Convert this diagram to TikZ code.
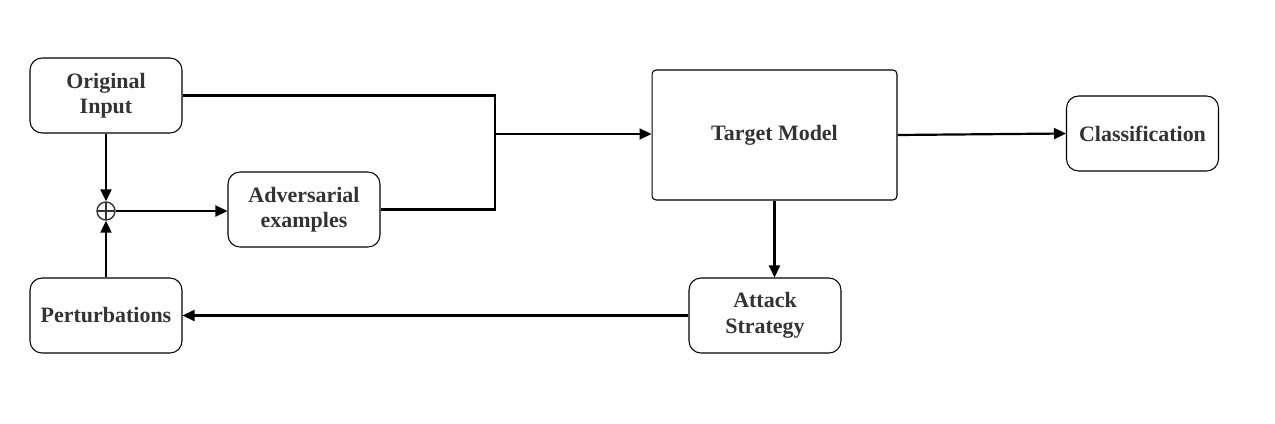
\documentclass[tikz,border=0pt]{standalone}
\usepackage{fontspec}
\setmainfont{Liberation Serif}
\usepackage{tikz}
\usetikzlibrary{positioning, arrows.meta, shapes}
\definecolor{tinta}{RGB}{51, 51, 51}
\tikzset{
    blk/.style={draw, rectangle, rounded corners=0.24cm, minimum width=3.04cm, minimum height=1.5cm, line width=0.6pt, text=tinta, font=\fontsize{12.5}{14.5}\selectfont\bfseries, align=center},
    mdl/.style={blk, rounded corners=0.08cm, minimum width=4.9cm, minimum height=2.6cm},
    summ/.style={circle, draw=tinta, line width=0.8pt, minimum size=0.36cm, inner sep=0pt,
        path picture={\draw [tinta, line width=0.8pt] (path picture bounding box.north) -- (path picture bounding box.south)
            (path picture bounding box.west) -- (path picture bounding box.east);}},
    conn/.style={-, line width=1.25pt},
    arr/.style={conn, -{Triangle[length=0.24cm, width=0.22cm]}},
}
\begin{document}
\begin{tikzpicture}[x=0.02cm, y=-0.02cm]
        \useasboundingbox (0,0) rectangle (1275,423);

        \node [blk] (orig) at (106,95.5) {Original\\Input};
        \node [blk] (adv) at (304,209.5) {Adversarial\\examples};
        \node [blk] (pert) at (106,315.5) {Perturbations};
        \node [mdl] (tgt) at (774.5,135) {Target Model};
        \node [blk] (cls) at (1142.5,133.5) {Classification};
        \node [blk] (atk) at (765,315.5) {Attack\\Strategy};
        \node [summ] (sum) at (106,211) {};
        \coordinate (junc) at (495,134);

        \draw [conn] (orig.east) -| (junc);
        \draw [conn] (adv.east) -| (junc);
        \draw [arr] (junc) -- (tgt.west |- junc);
        \draw [arr] (tgt.east) -- (cls.west);
        \draw [arr] (tgt.south) -- (tgt.south |- atk.north);
        \draw [arr] (atk.west) -- (pert.east);
        \draw [arr] (pert.north) -- (sum.south);
        \draw [arr] (orig.south) -- (sum.north);
        \draw [arr] (sum.east) -- (adv.west |- sum.east);
    \end{tikzpicture}
\end{document}
